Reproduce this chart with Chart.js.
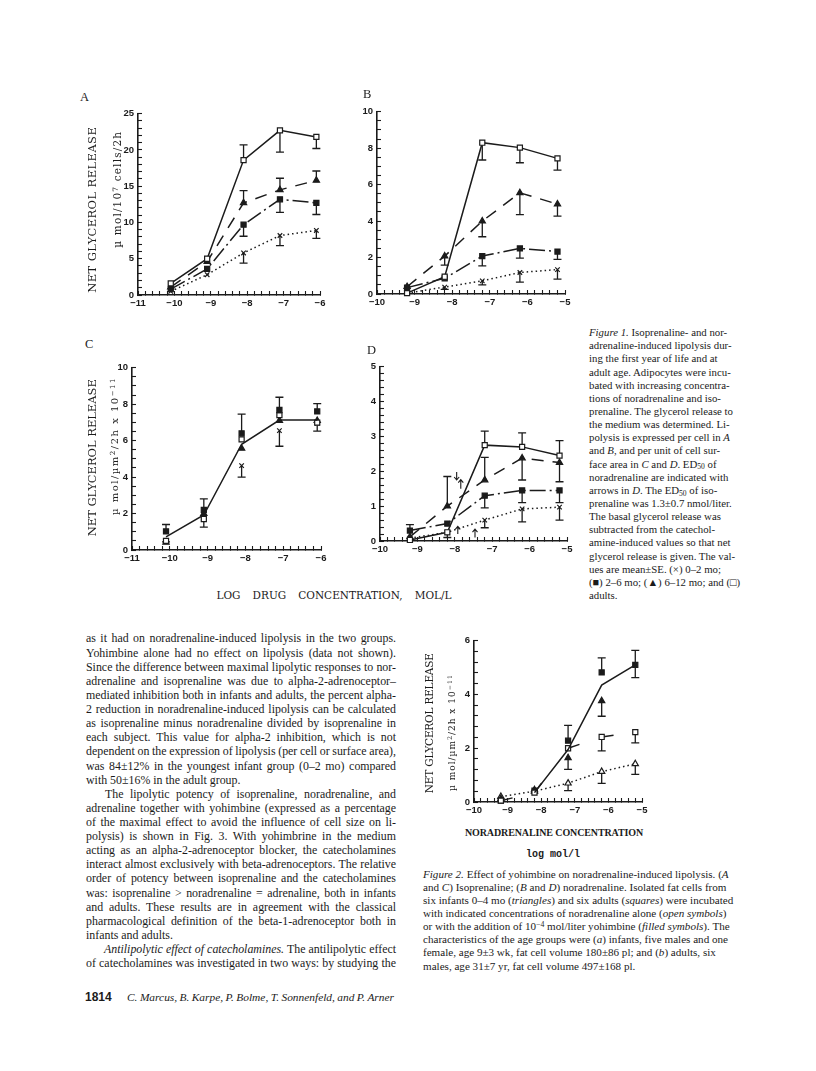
<!DOCTYPE html>
<html>
<head>
<meta charset="utf-8">
<title>Lipolysis figures</title>
<script src="https://cdn.jsdelivr.net/npm/chart.js@4.4.1/dist/chart.umd.min.js"></script>
<style>
  html, body { margin: 0; background: #fff; }
  #page { position: relative; width: 816px; height: 1071px; overflow: hidden; background: #fff; color: #1b1b1b; }
  #page canvas { position: absolute; }
  .t { position: absolute; white-space: nowrap; line-height: 1; font-family: "Liberation Serif", serif; }
  .sup { font-size: 0.7em; position: relative; top: -0.45em; }
  .sub { font-size: 0.7em; position: relative; top: 0.25em; }
</style>
</head>
<body>
<div id="page"></div>
<script>
// DOSES (log mol/l)
const isoDoses = [-10.1, -9.1, -8.1, -7.1, -6.1];
const noraDoses = [-9.2, -8.2, -7.2, -6.2, -5.2];

// PANEL A - isoprenaline, per cell
const aMo02 = [0.5, 2.8, 5.8, 8.2, 8.9];
const aMo02Err = [null, null, 4.4, 6.8, 7.8];
const aMo26 = [0.8, 3.6, 9.7, 13.2, 12.7];
const aMo26Err = [null, null, 8.1, 11.4, 11.1];
const aMo612 = [1.1, 4.6, 12.7, 14.5, 15.8];
const aMo612Err = [null, null, 14.4, 16.1, 17.1];
const aAdult = [1.6, 5.0, 18.6, 22.7, 21.8];
const aAdultErr = [null, null, 20.7, 19.7, 20.2];

// PANEL B - noradrenaline, per cell
const bMo02 = [0.05, 0.38, 0.72, 1.18, 1.34];
const bMo02Err = [null, 0.25, 0.5, 0.65, 0.82];
const bMo26 = [0.35, 0.86, 2.08, 2.5, 2.33];
const bMo26Err = [null, null, 1.54, 1.97, 1.9];
const bMo612 = [0.4, 2.08, 4.0, 5.55, 4.93];
const bMo612Err = [null, 1.58, 3.14, 4.35, 4.27];
const bAdult = [0.05, 0.95, 8.3, 8.03, 7.44];
const bAdultErr = [null, null, 7.35, 7.2, 6.8];

// PANEL C - isoprenaline, per surface area
const cMean = [0.72, 1.92, 5.8, 7.13, 7.13];
const cMo02 = [0.5, 1.8, 4.63, 6.55, 6.95];
const cMo02Err = [0.45, 1.25, 4.0, 5.69, 6.52];
const cMo26 = [1.02, 2.2, 6.4, 7.68, 7.6];
const cMo26Err = [1.4, 2.8, 7.45, 8.38, 8.03];
const cMo612 = [0.42, 2.0, 5.57, 7.1, 7.1];
const cAdult = [0.5, 1.7, 6.07, 7.4, 6.99];

// PANEL D - noradrenaline, per surface area
const dMo02 = [0.08, 0.25, 0.6, 0.92, 0.97];
const dMo02Err = [null, 0.1, 0.38, 0.55, 0.6];
const dMo26 = [0.3, 0.5, 1.3, 1.45, 1.45];
const dMo26Err = [0.47, null, 0.95, 1.1, 1.1];
const dMo612 = [0.12, 1.0, 1.75, 2.38, 2.25];
const dMo612Err = [null, 1.85, 2.4, 1.75, 1.7];
const dAdult = [0.03, 0.25, 2.75, 2.7, 2.45];
const dAdultErr = [null, null, 3.15, 3.1, 2.88];
// ED50 arrows in D
const dArrowX = [-7.95, -7.84, -7.92, -7.46];
const dArrowFrom = [1.98, 1.5, 0.2, 0.1];
const dArrowTo = [1.75, 1.76, 0.42, 0.34];

// FIGURE 2 - yohimbine
const f2Fit = [null, 0.35, 1.95, 4.35, 5.1];
const f2AdultYoh = [0.05, 0.42, 2.28, 4.82, 5.1];
const f2AdultYohHi = [null, null, 2.85, 5.36, 5.64];
const f2AdultYohLo = [null, null, null, null, 4.63];
const f2AdultAlone = [0.05, 0.35, 2.0, 2.42, 2.6];
const f2AdultAloneErr = [null, null, null, 1.9, 2.2];
const f2InfantYoh = [0.12, 0.45, 1.64, 3.76, null];
const f2InfantYohErr = [null, null, 1.21, 3.19, null];
const f2InfantAlone = [0.2, 0.4, 0.7, 1.13, 1.42];
const f2InfantAloneErr = [null, null, 0.42, 0.69, 1.03];

const ink = '#1b1b1b';
const page = document.getElementById('page');

// TEXT HELPERS
function place(html, x, cy, size, opts = {}) {
    const d = document.createElement('div');
    d.className = 't';
    d.innerHTML = html;
    d.style.fontSize = size + 'px';
    if (opts.family) d.style.fontFamily = opts.family;
    if (opts.weight) d.style.fontWeight = opts.weight;
    if (opts.italic) d.style.fontStyle = 'italic';
    page.appendChild(d);
    if (opts.width) spread(d, opts.width, opts.mode || 'word');
    let left = x;
    if (opts.align === 'center') left = x - d.offsetWidth / 2;
    d.style.left = left + 'px';
    d.style.top = (cy - size * 0.55) + 'px';
    return d;
}

function spread(d, width, mode) {
    const w0 = d.getBoundingClientRect().width;
    if (mode === 'word') {
        const n = (d.textContent.match(/ /g) || []).length;
        if (n) d.style.wordSpacing = ((width - w0) / n) + 'px';
    } else {
        const n = d.textContent.length;
        d.style.letterSpacing = ((width - w0) / n) + 'px';
    }
}

function placeV(html, cx, cy, size, len, family) {
    const d = place(html, 0, 0, size, {family: family, width: len, mode: 'letter'});
    const w = d.offsetWidth, h = d.offsetHeight;
    d.style.left = (cx - w / 2) + 'px';
    d.style.top = (cy - h / 2) + 'px';
    d.style.transform = 'rotate(-90deg)';
}

// CHART HELPERS
const MARK = {
    adult: {pointStyle: 'rect', pointRadius: 3.6, pointBackgroundColor: '#fff'},
    mo26: {pointStyle: 'rect', pointRadius: 3.6, pointBackgroundColor: ink},
    mo612: {pointStyle: 'triangle', pointRadius: 3.6, pointBackgroundColor: ink},
    mo02: {pointStyle: 'crossRot', pointRadius: 3.2, pointBackgroundColor: ink},
    openTri: {pointStyle: 'triangle', pointRadius: 3.6, pointBackgroundColor: '#fff'},
    none: {pointRadius: 0}
};
const DASH = {solid: [], dash: [12, 9], dashdot: [16, 4, 2, 4], dot: [1.5, 3], broken: [12, 80]};

function series(doses, vals, mark, dash, errs) {
    const ds = Object.assign({
        data: vals.map((v, i) => ({x: doses[i], y: v})),
        borderColor: ink,
        borderWidth: 1.5,
        borderDash: dash ? DASH[dash] : [],
        showLine: !!dash,
        pointBorderColor: ink,
        pointBorderWidth: 1.2,
        tension: 0,
        clip: false,
        spanGaps: false,
        errEnds: errs || []
    }, MARK[mark]);
    if (dash === 'broken') {
        // restart the dash at every point
        ds.segment = {borderDashOffset: ctx => ctx.p0DataIndex * 0.001};
    }
    return ds;
}

const errorBars = {
    id: 'errorBars',
    beforeDatasetsDraw(chart) {
        const ctx = chart.ctx;
        const xs = chart.scales.x, ys = chart.scales.y;
        ctx.save();
        ctx.strokeStyle = ink;
        ctx.lineWidth = 1.3;
        ctx.setLineDash([]);
        chart.data.datasets.forEach(ds => {
            (ds.errEnds || []).forEach(ends => {
                ends.forEach((e, i) => {
                    const p = ds.data[i];
                    if (e == null || p.y == null) return;
                    const px = xs.getPixelForValue(p.x);
                    const py = ys.getPixelForValue(p.y);
                    const pe = ys.getPixelForValue(e);
                    ctx.beginPath();
                    ctx.moveTo(px, py);
                    ctx.lineTo(px, pe);
                    ctx.moveTo(px - 4, pe);
                    ctx.lineTo(px + 4, pe);
                    ctx.stroke();
                });
            });
        });
        ctx.restore();
    }
};

const edArrows = {
    id: 'edArrows',
    afterDatasetsDraw(chart) {
        const ctx = chart.ctx;
        const xs = chart.scales.x, ys = chart.scales.y;
        ctx.save();
        ctx.strokeStyle = ink;
        ctx.lineWidth = 1.1;
        dArrowX.forEach((xv, i) => {
            const px = xs.getPixelForValue(xv);
            const p0 = ys.getPixelForValue(dArrowFrom[i]);
            const p1 = ys.getPixelForValue(dArrowTo[i]);
            const dir = p1 < p0 ? 1 : -1;
            ctx.beginPath();
            ctx.moveTo(px, p0);
            ctx.lineTo(px, p1);
            ctx.moveTo(px - 2.5, p1 + dir * 3);
            ctx.lineTo(px, p1);
            ctx.lineTo(px + 2.5, p1 + dir * 3);
            ctx.stroke();
        });
        ctx.restore();
    }
};

function isMajor(v, major) {
    const q = v / major;
    return Math.abs(q - Math.round(q)) < 1e-6;
}

function tickText(v) {
    const r = Math.round(v);
    return r < 0 ? '\u2212' + Math.abs(r) : String(r);
}

function axis(range, isX, size) {
    const [min, max, step, major] = range;
    return {
        type: 'linear',
        min: min,
        max: max,
        offset: false,
        afterFit: s => { if (isX) s.height = size; else s.width = size; },
        grid: {display: true, drawOnChartArea: false, drawTicks: true, tickLength: -4, tickColor: ink, tickWidth: 1.1},
        border: {display: true, color: ink, width: 1.6},
        ticks: {
            stepSize: step,
            maxTicksLimit: Math.round(1.5 * (max - min) / step) + 1,
            autoSkip: false,
            maxRotation: 0,
            minRotation: 0,
            padding: isX ? 7 : 8,
            color: ink,
            font: {family: 'Liberation Sans', weight: 'bold', size: 9.5},
            callback: v => isMajor(v, major) ? tickText(v) : ''
        }
    };
}

function makeChart(box, xRange, yRange, datasets, extra) {
    const padL = 42, padR = 18, padT = 10, padB = 22;
    const w = (box.r - box.l) + padL + padR;
    const h = (box.b - box.t) + padT + padB;
    const canvas = document.createElement('canvas');
    canvas.width = w;
    canvas.height = h;
    canvas.style.width = w + 'px';
    canvas.style.height = h + 'px';
    canvas.style.left = (box.l - padL) + 'px';
    canvas.style.top = (box.t - padT) + 'px';
    page.appendChild(canvas);
    return new Chart(canvas.getContext('2d'), {
        type: 'line',
        data: {datasets: datasets},
        plugins: [errorBars].concat(extra || []),
        options: {
            responsive: false,
            animation: false,
            events: [],
            layout: {padding: {left: 0, right: padR, top: padT, bottom: 0}, autoPadding: false},
            plugins: {legend: {display: false}, tooltip: {enabled: false}},
            scales: {x: axis(xRange, true, padB), y: axis(yRange, false, padL)}
        }
    });
}

// FIGURE 1
makeChart({l: 138, r: 320, t: 110, b: 295}, [-11, -6, 0.2, 1], [0, 25, 1, 5], [
    series(isoDoses, aAdult, 'adult', 'solid', [aAdultErr]),
    series(isoDoses, aMo612, 'mo612', 'dash', [aMo612Err]),
    series(isoDoses, aMo26, 'mo26', 'dashdot', [aMo26Err]),
    series(isoDoses, aMo02, 'mo02', 'dot', [aMo02Err])
]);

makeChart({l: 377, r: 565, t: 108, b: 294}, [-10, -5, 0.2, 1], [0, 10, 0.5, 2], [
    series(noraDoses, bAdult, 'adult', 'solid', [bAdultErr]),
    series(noraDoses, bMo612, 'mo612', 'dash', [bMo612Err]),
    series(noraDoses, bMo26, 'mo26', 'dashdot', [bMo26Err]),
    series(noraDoses, bMo02, 'mo02', 'dot', [bMo02Err])
]);

makeChart({l: 132, r: 321, t: 364, b: 550}, [-11, -6, 0.2, 1], [0, 10, 0.5, 2], [
    series(isoDoses, cMean, 'none', 'solid'),
    series(isoDoses, cMo26, 'mo26', null, [cMo26Err]),
    series(isoDoses, cAdult, 'adult', null),
    series(isoDoses, cMo612, 'mo612', null),
    series(isoDoses, cMo02, 'mo02', null, [cMo02Err])
]);

makeChart({l: 380, r: 567, t: 363, b: 541}, [-10, -5, 0.2, 1], [0, 5, 0.2, 1], [
    series(noraDoses, dAdult, 'adult', 'solid', [dAdultErr]),
    series(noraDoses, dMo612, 'mo612', 'dash', [dMo612Err]),
    series(noraDoses, dMo26, 'mo26', 'dashdot', [dMo26Err]),
    series(noraDoses, dMo02, 'mo02', 'dot', [dMo02Err])
], [edArrows]);

// FIGURE 2
makeChart({l: 474, r: 642, t: 637, b: 802}, [-10, -5, 0.2, 1], [0, 6, 0.4, 2], [
    series(noraDoses, f2Fit, 'none', 'solid'),
    series(noraDoses, f2AdultAlone, 'adult', 'broken', [f2AdultAloneErr]),
    series(noraDoses, f2AdultYoh, 'mo26', null, [f2AdultYohHi, f2AdultYohLo]),
    series(noraDoses, f2InfantYoh, 'mo612', null, [f2InfantYohErr]),
    series(noraDoses, f2InfantAlone, 'openTri', 'dot', [f2InfantAloneErr])
]);

// AXIS TITLES AND PANEL LETTERS
const plotFont = '"DejaVu Serif", serif';
place('A', 80, 98, 12.5);
place('B', 363, 95, 12.5);
place('C', 85, 345, 12.5);
place('D', 367, 351, 12.5);

placeV('NET GLYCEROL RELEASE', 93, 210, 11.5, 166, plotFont);
placeV('\u00b5 mol/10<span class="sup">7</span> cells/2h', 117, 189, 10.5, 117, plotFont);
placeV('NET GLYCEROL RELEASE', 92, 458, 11.5, 157, plotFont);
placeV('\u00b5 mol/\u00b5m<span class="sup">2</span>/2h x 10<span class="sup">\u221211</span>', 115, 446, 10, 138, plotFont);
place('LOG DRUG CONCENTRATION, MOL/L', 334, 596, 10.5, {family: plotFont, width: 235, align: 'center'});

placeV('NET GLYCEROL RELEASE', 429, 723, 10.5, 140, plotFont);
placeV('\u00b5 mol/\u00b5m<span class="sup">2</span>/2h x 10<span class="sup">\u221211</span>', 452, 732, 9, 117, plotFont);
place('NORADRENALINE CONCENTRATION', 554, 833, 10, {family: '"Liberation Serif", serif', weight: 'bold', width: 178, mode: 'letter', align: 'center'});
place('log mol/l', 553, 855, 10, {family: '"Liberation Mono", monospace', weight: 'bold', align: 'center'});

// FIGURE 1 CAPTION
const fig1Caption = [
    '<i>Figure 1.</i> Isoprenaline- and nor-',
    'adrenaline-induced lipolysis dur-',
    'ing the first year of life and at',
    'adult age. Adipocytes were incu-',
    'bated with increasing concentra-',
    'tions of noradrenaline and iso-',
    'prenaline. The glycerol release to',
    'the medium was determined. Li-',
    'polysis is expressed per cell in <i>A</i>',
    'and <i>B</i>, and per unit of cell sur-',
    'face area in <i>C</i> and <i>D</i>. ED<span class="sub">50</span> of',
    'noradrenaline are indicated with',
    'arrows in <i>D</i>. The ED<span class="sub">50</span> of iso-',
    'prenaline was 1.3\u00b10.7 nmol/liter.',
    'The basal glycerol release was',
    'subtracted from the catechol-',
    'amine-induced values so that net',
    'glycerol release is given. The val-',
    'ues are mean\u00b1SE. (\u00d7) 0\u20132 mo;',
    '(\u25a0) 2\u20136 mo; (\u25b2) 6\u201312 mo; and (\u25a1)',
    'adults.'
];
fig1Caption.forEach((line, i) => place(line, 589, 333 + i * 13.15, 10.8));

// FIGURE 2 CAPTION
const fig2Caption = [
    '<i>Figure 2.</i> Effect of yohimbine on noradrenaline-induced lipolysis. (<i>A</i>',
    'and <i>C</i>) Isoprenaline; (<i>B</i> and <i>D</i>) noradrenaline. Isolated fat cells from',
    'six infants 0\u20134 mo (<i>triangles</i>) and six adults (<i>squares</i>) were incubated',
    'with indicated concentrations of noradrenaline alone (<i>open symbols</i>)',
    'or with the addition of 10<span class="sup">\u22124</span> mol/liter yohimbine (<i>filled symbols</i>). The',
    'characteristics of the age groups were (<i>a</i>) infants, five males and one',
    'female, age 9\u00b13 wk, fat cell volume 180\u00b186 pl; and (<i>b</i>) adults, six',
    'males, age 31\u00b17 yr, fat cell volume 497\u00b1168 pl.'
];
fig2Caption.forEach((line, i) => place(line, 423, 875 + i * 13.1, 11.1));

// BODY TEXT  [text, justified, indent]
const bodyLines = [
    ['as it had on noradrenaline-induced lipolysis in the two groups.', true, 0],
    ['Yohimbine alone had no effect on lipolysis (data not shown).', true, 0],
    ['Since the difference between maximal lipolytic responses to nor-', true, 0],
    ['adrenaline and isoprenaline was due to alpha-2-adrenoceptor\u2013', true, 0],
    ['mediated inhibition both in infants and adults, the percent alpha-', true, 0],
    ['2 reduction in noradrenaline-induced lipolysis can be calculated', true, 0],
    ['as isoprenaline minus noradrenaline divided by isoprenaline in', true, 0],
    ['each subject. This value for alpha-2 inhibition, which is not', true, 0],
    ['dependent on the expression of lipolysis (per cell or surface area),', true, 0],
    ['was 84\u00b112% in the youngest infant group (0\u20132 mo) compared', true, 0],
    ['with 50\u00b116% in the adult group.', false, 0],
    ['The lipolytic potency of isoprenaline, noradrenaline, and', true, 19],
    ['adrenaline together with yohimbine (expressed as a percentage', true, 0],
    ['of the maximal effect to avoid the influence of cell size on li-', true, 0],
    ['polysis) is shown in Fig. 3. With yohimbrine in the medium', true, 0],
    ['acting as an alpha-2-adrenoceptor blocker, the catecholamines', true, 0],
    ['interact almost exclusively with beta-adrenoceptors. The relative', true, 0],
    ['order of potency between isoprenaline and the catecholamines', true, 0],
    ['was: isoprenaline &gt; noradrenaline = adrenaline, both in infants', true, 0],
    ['and adults. These results are in agreement with the classical', true, 0],
    ['pharmacological definition of the beta-1-adrenoceptor both in', true, 0],
    ['infants and adults.', false, 0],
    ['<i>Antilipolytic effect of catecholamines.</i> The antilipolytic effect', true, 18],
    ['of catecholamines was investigated in two ways: by studying the', true, 0]
];
bodyLines.forEach(([text, just, indent], i) => {
    place(text, 86 + indent, 640 + i * 14.12, 11.9, just ? {width: 310 - indent} : {});
});

// FOOTER
place('1814', 85, 998, 12, {family: '"Liberation Sans", sans-serif', weight: 'bold'});
place('C. Marcus, B. Karpe, P. Bolme, T. Sonnenfeld, and P. Arner', 127, 998, 11.4, {italic: true, width: 267});
</script>
</body>
</html>
